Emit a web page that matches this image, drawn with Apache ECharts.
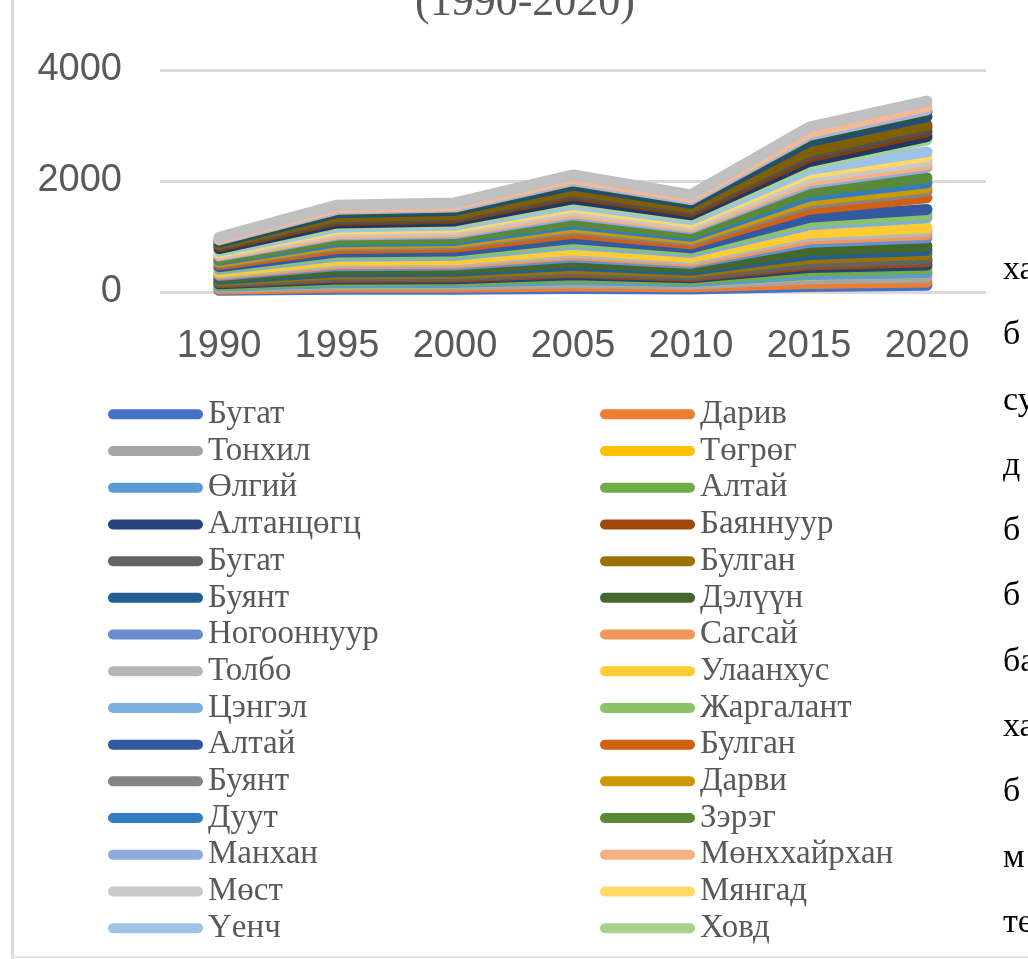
<!DOCTYPE html>
<html>
<head>
<meta charset="utf-8">
<script src="https://cdn.jsdelivr.net/npm/echarts@6/dist/echarts.min.js"></script>
<style>
html,body{margin:0;padding:0;background:#fff;}
#chart{width:1028px;height:959px;}
</style>
</head>
<body>
<div id="chart"></div>
<script>
// Categories
const years = ['1990', '1995', '2000', '2005', '2010', '2015', '2020'];
// Series names (stack order, bottom to top). Duplicates carry a zero-width mark to stay unique.
const seriesNames = [
  'Бугат', 'Дарив', 'Тонхил', 'Төгрөг', 'Өлгий', 'Алтай', 'Алтанцөгц', 'Баяннуур',
  'Бугат\u200B', 'Булган', 'Буянт', 'Дэлүүн', 'Ногооннуур', 'Сагсай', 'Толбо', 'Улаанхус',
  'Цэнгэл', 'Жаргалант', 'Алтай\u200B', 'Булган\u200B', 'Буянт\u200B', 'Дарви', 'Дуут', 'Зэрэг',
  'Манхан', 'Мөнххайрхан', 'Мөст', 'Мянгад', 'Үенч', 'Ховд',
  'Цэцэг', 'Чандмань', 'Эрдэнэбүрэн', 'Дөргөн', 'Халиун', 'Цээл', 'Шарга', 'Бигэр', 'Цогт'
];
// Names visible in the (truncated) legend
const legendNames = seriesNames.slice(0, 30);
// Values per year, one entry per series in the order above
const v1990 = [30,20,25,25,3,22,22,20,15,25,22,25,45,22,20,22,45,22,25,40,30,20,25,25,50,15,25,25,25,28,20,35,20,22,40,25,12,18,30];
const v1995 = [50,35,40,35,5,35,35,30,25,40,35,40,70,35,30,35,70,35,40,65,50,30,40,40,80,25,40,40,40,45,30,50,30,35,70,40,20,30,45];
const v2000 = [50,35,40,40,5,35,35,30,25,40,40,40,70,35,30,35,75,35,45,70,50,30,40,40,85,30,40,40,40,45,30,50,30,35,75,40,20,30,45];
const v2005 = [65,45,55,50,5,45,45,40,30,50,50,55,95,45,40,45,100,45,60,95,70,40,55,55,110,35,50,55,50,60,40,65,40,45,95,55,25,40,65];
const v2010 = [55,40,45,40,5,35,35,30,25,40,40,45,80,35,35,40,90,35,45,75,55,35,45,45,95,30,40,45,45,50,35,55,35,40,80,45,20,35,50];
const v2015 = [100,55,80,70,10,65,60,50,40,75,70,70,150,60,55,55,145,55,80,145,100,55,85,80,145,45,60,75,70,90,55,80,55,55,170,80,30,50,100];
const v2020 = [120,60,85,78,5,72,67,60,41,90,72,78,150,60,60,60,180,60,90,210,120,60,90,90,190,48,72,78,78,216,60,90,60,60,150,90,30,60,100];
const yearValues = [v1990, v1995, v2000, v2005, v2010, v2015, v2020];
// Y axis ticks
const yTicks = { min: 0, max: 4000, interval: 2000 };

const colors = [
  '#4472C4','#ED7D31','#A5A5A5','#FFC000','#5B9BD5','#70AD47','#264478','#9E480E',
  '#636363','#997300','#255E91','#43682B','#698ED0','#F1975A','#B7B7B7','#FFCD33',
  '#7CAFDD','#8CC168','#335AA1','#D26012','#848484','#CC9A00','#327DC2','#5A8A39',
  '#8FAADC','#F4B183','#C9C9C9','#FFD966','#9DC3E6','#A9D18E',
  '#203864','#843C0C','#525252','#7F6000','#1F4E79','#375623','#A2B8E1','#F5B995','#C0C0C0'
];

const series = seriesNames.map((name, i) => ({
  name: name,
  type: 'line',
  stack: 'total',
  symbol: 'none',
  showSymbol: false,
  smooth: false,
  color: colors[i],
  itemStyle: { color: colors[i] },
  lineStyle: { width: 11, color: colors[i], cap: 'round', join: 'round' },
  emphasis: { disabled: true },
  data: yearValues.map(arr => arr[i])
}));

const sideText = ['ха', 'б', 'су', 'д', 'б', 'б', 'ба', 'ха', 'б', 'м', 'те'];
const graphics = [
  { type: 'rect', shape: { x: 11, y: 0, width: 3, height: 959 }, style: { fill: '#d9d9d9' }, silent: true },
  { type: 'rect', shape: { x: 11, y: 956, width: 1017, height: 2 }, style: { fill: '#e3e3e3' }, silent: true },
  { type: 'text', x: 525, y: 3, style: { text: '(1990-2020)', font: '44px "Liberation Serif"', fill: '#595959', align: 'center', verticalAlign: 'middle' }, silent: true }
];
sideText.forEach((t, i) => {
  graphics.push({ type: 'text', x: 1003, y: 270 + i * 65.3, style: { text: t, font: '34px "Liberation Serif"', fill: '#000', align: 'left', verticalAlign: 'middle' }, silent: true });
});

const chart = echarts.init(document.getElementById('chart'), null, { renderer: 'canvas' });
chart.setOption({
  animation: false,
  backgroundColor: '#fff',
  grid: { left: 160, right: 42, top: 70, bottom: 667, containLabel: false },
  xAxis: {
    type: 'category',
    data: years,
    boundaryGap: true,
    axisLine: { show: false },
    axisTick: { show: false },
    axisLabel: { color: '#595959', fontSize: 38, fontFamily: 'Liberation Sans', margin: 36 }
  },
  yAxis: {
    type: 'value',
    min: yTicks.min, max: yTicks.max, interval: yTicks.interval,
    axisLine: { show: false },
    axisTick: { show: false },
    axisLabel: { color: '#595959', fontSize: 38, fontFamily: 'Liberation Sans', margin: 38, formatter: v => String(v) },
    splitLine: { lineStyle: { color: '#d9d9d9', width: 3 } }
  },
  legend: {
    data: legendNames,
    left: 103,
    top: 391,
    width: 990,
    orient: 'horizontal',
    itemGap: 0,
    itemWidth: 95,
    itemHeight: 10,
    icon: 'path://M5,0H90A5,5,0,0,1,90,10H5A5,5,0,0,1,5,0Z',
    selectedMode: false,
    formatter: n => n.replace(/\u200B/g, ''),
    textStyle: { color: '#595959', fontSize: 33, fontFamily: 'Liberation Serif', width: 392, lineHeight: 36.7, padding: [0, 0, 0, 0] }
  },
  graphic: graphics,
  series: series
});
</script>
</body>
</html>
